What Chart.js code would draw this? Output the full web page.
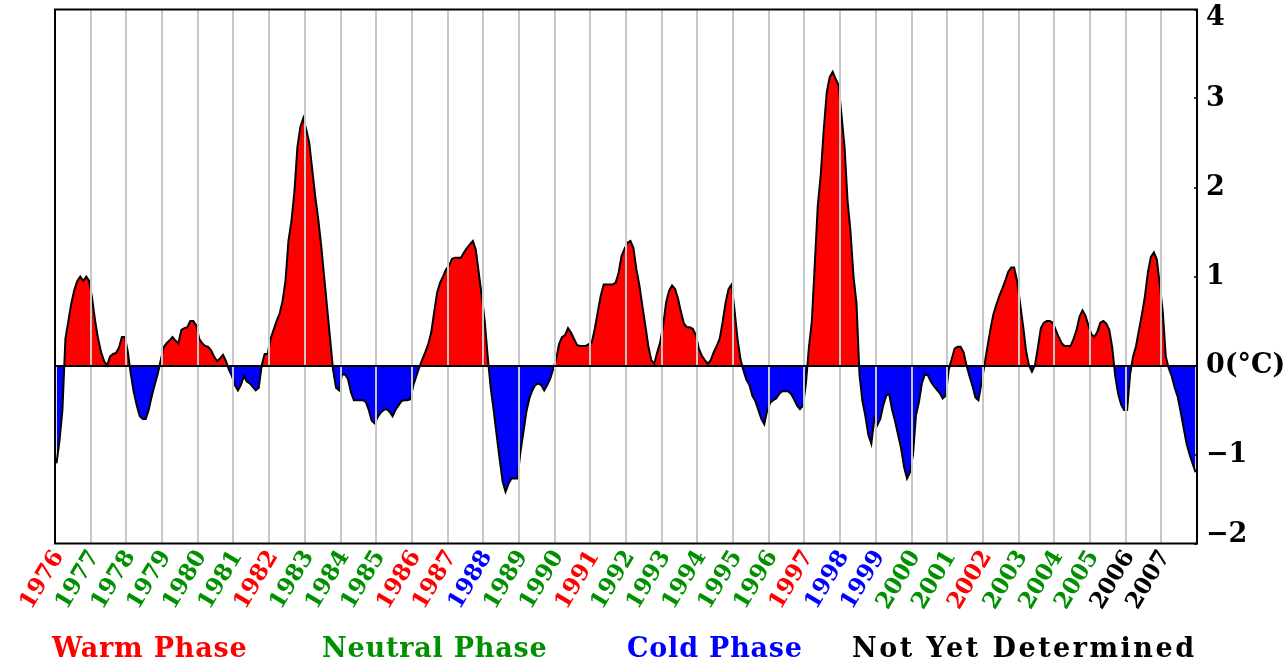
<!DOCTYPE html>
<html>
<head>
<meta charset="utf-8">
<script src="https://cdn.jsdelivr.net/npm/chart.js@4.4.1/dist/chart.umd.min.js"></script>
<style>
  html, body { margin: 0; padding: 0; background: #ffffff; }
  #wrap { position: relative; width: 1287px; height: 663px; overflow: hidden; }
  #c { position: absolute; left: 0; top: 0; }
  #legend { position: absolute; left: 0; top: 632px; width: 1287px; height: 31px;
            font-family: "DejaVu Serif", serif; font-weight: bold; font-size: 27px; line-height: 31px;
            letter-spacing: 0.8px; }
  #legend span { position: absolute; top: 0; white-space: nowrap; }
  #legend span:nth-child(1) { left: 52px; }
  #legend span:nth-child(2) { left: 322px; }
  #legend span:nth-child(3) { left: 627px; }
  #legend span:nth-child(4) { left: 852px; letter-spacing: 2.5px; }
</style>
</head>
<body>
<div id="wrap">
  <canvas id="c" width="1287" height="663"></canvas>
  <div id="legend"></div>
</div>
<script>
// ---- data ----
const years = [1976,1977,1978,1979,1980,1981,1982,1983,1984,1985,1986,1987,1988,1989,1990,1991,
               1992,1993,1994,1995,1996,1997,1998,1999,2000,2001,2002,2003,2004,2005,2006,2007];
// phase of each year: 0 warm, 1 neutral, 2 cold, 3 not yet determined
const yearPhase = [0,1,1,1,1,1,0,1,1,1,0,0,2,1,1,0,1,1,1,1,1,0,2,2,1,1,0,1,1,1,3,3];
const phaseNames = ['Warm Phase', 'Neutral Phase', 'Cold Phase', 'Not Yet Determined'];
const phaseColors = ['#ff0000', '#009000', '#0000ff', '#000000'];
const yTickValues = [-2, -1, 0, 1, 2, 3, 4];
const yTickLabels = ['\u22122', '\u22121', '0(\u00B0C)', '1', '2', '3', '4'];
// monthly anomaly (°C), Jan..Dec of each year
const anomaly = [
  -1.1, -0.85, -0.5, 0.3, 0.5, 0.7, 0.85, 0.95, 1.0, 0.95, 1.0, 0.95,          // 1976
  0.75, 0.5, 0.3, 0.15, 0.05, 0.0, 0.1, 0.13, 0.14, 0.2, 0.32, 0.32,             // 1977
  0.15, -0.1, -0.3, -0.45, -0.57, -0.6, -0.6, -0.5, -0.35, -0.22, -0.1, 0.05,    // 1978
  0.2, 0.25, 0.28, 0.32, 0.28, 0.25, 0.4, 0.42, 0.43, 0.5, 0.5, 0.45,            // 1979
  0.3, 0.25, 0.22, 0.21, 0.17, 0.1, 0.05, 0.08, 0.12, 0.05, -0.05, -0.12,        // 1980
  -0.22, -0.28, -0.22, -0.12, -0.18, -0.2, -0.24, -0.28, -0.25, 0.0, 0.13, 0.13, // 1981
  0.3, 0.4, 0.5, 0.58, 0.72, 0.95, 1.4, 1.62, 1.95, 2.45, 2.68, 2.78,            // 1982
  2.65, 2.5, 2.2, 1.9, 1.65, 1.35, 1.0, 0.65, 0.3, -0.05, -0.25, -0.28,          // 1983
  -0.1, -0.1, -0.15, -0.3, -0.39, -0.39, -0.39, -0.39, -0.41, -0.5, -0.62, -0.65,// 1984
  -0.58, -0.53, -0.5, -0.49, -0.52, -0.57, -0.5, -0.45, -0.4, -0.39, -0.39, -0.38,// 1985
  -0.22, -0.12, -0.02, 0.07, 0.15, 0.24, 0.37, 0.6, 0.82, 0.93, 1.0, 1.08,       // 1986
  1.12, 1.2, 1.21, 1.21, 1.21, 1.27, 1.32, 1.36, 1.4, 1.3, 1.04, 0.78,           // 1987
  0.5, 0.1, -0.25, -0.5, -0.78, -1.05, -1.3, -1.42, -1.33, -1.27, -1.27, -1.27,  // 1988
  -0.97, -0.75, -0.52, -0.37, -0.28, -0.22, -0.2, -0.22, -0.28, -0.22, -0.15, -0.04, // 1989
  0.07, 0.24, 0.32, 0.34, 0.42, 0.37, 0.3, 0.23, 0.22, 0.22, 0.22, 0.24,         // 1990
  0.26, 0.41, 0.6, 0.78, 0.91, 0.91, 0.91, 0.91, 0.93, 1.04, 1.23, 1.31,         // 1991
  1.38, 1.4, 1.32, 1.08, 0.9, 0.67, 0.45, 0.22, 0.06, 0.02, 0.15, 0.26,          // 1992
  0.45, 0.71, 0.84, 0.9, 0.86, 0.75, 0.6, 0.47, 0.43, 0.43, 0.41, 0.34,          // 1993
  0.19, 0.11, 0.06, 0.02, 0.06, 0.15, 0.22, 0.3, 0.49, 0.71, 0.86, 0.91,         // 1994
  0.62, 0.3, 0.07, -0.06, -0.16, -0.22, -0.34, -0.4, -0.5, -0.6, -0.66, -0.5,    // 1995
  -0.42, -0.39, -0.37, -0.32, -0.29, -0.29, -0.29, -0.32, -0.38, -0.45, -0.49, -0.45, // 1996
  -0.2, 0.2, 0.5, 1.15, 1.8, 2.15, 2.65, 3.07, 3.24, 3.3, 3.22, 3.15,            // 1997
  2.8, 2.45, 1.85, 1.5, 1.0, 0.7, -0.1, -0.4, -0.57, -0.78, -0.88, -0.6,         // 1998
  -0.67, -0.6, -0.45, -0.34, -0.32, -0.5, -0.63, -0.78, -0.93, -1.14, -1.27, -1.2, // 1999
  -1.0, -0.56, -0.41, -0.2, -0.1, -0.11, -0.18, -0.23, -0.27, -0.31, -0.37, -0.34, // 2000
  -0.05, 0.07, 0.19, 0.21, 0.21, 0.15, 0.0, -0.12, -0.23, -0.36, -0.39, -0.2,    // 2001
  0.0, 0.2, 0.4, 0.57, 0.68, 0.78, 0.86, 0.95, 1.05, 1.1, 1.1, 0.95,             // 2002
  0.7, 0.45, 0.17, 0.0, -0.07, 0.0, 0.2, 0.42, 0.48, 0.5, 0.5, 0.48,             // 2003
  0.4, 0.32, 0.25, 0.22, 0.22, 0.22, 0.3, 0.4, 0.55, 0.62, 0.56, 0.45,           // 2004
  0.35, 0.32, 0.38, 0.48, 0.5, 0.47, 0.4, 0.2, -0.12, -0.32, -0.44, -0.5,        // 2005
  -0.5, -0.1, 0.1, 0.22, 0.4, 0.58, 0.78, 1.05, 1.22, 1.27, 1.19, 0.9,           // 2006
  0.6, 0.1, -0.03, -0.12, -0.25, -0.35, -0.52, -0.7, -0.88, -1.0, -1.1, -1.2     // 2007
];

// ---- build ----
const firstYear = years[0];
const endYear = years[years.length - 1] + 1;
const points = anomaly.map((v, i) => ({ x: firstYear + (i + 0.5) / 12, y: v }));
const xTickValues = years.concat([endYear]);

const legendEl = document.getElementById('legend');
phaseNames.forEach((name, i) => {
  const s = document.createElement('span');
  s.textContent = name;
  s.style.color = phaseColors[i];
  legendEl.appendChild(s);
});

const framePlugin = {
  id: 'frame',
  afterDraw(chart) {
    const a = chart.chartArea, ctx = chart.ctx;
    ctx.save();
    ctx.strokeStyle = '#000';
    ctx.lineWidth = 2;
    ctx.strokeRect(a.left, a.top, a.right - a.left, a.bottom - a.top);
    ctx.restore();
  }
};

const tickFont = { family: '"DejaVu Serif", serif', weight: 'bold' };

new Chart(document.getElementById('c'), {
  type: 'line',
  data: {
    datasets: [{
      data: points,
      borderColor: '#000000',
      borderWidth: 2,
      pointRadius: 0,
      tension: 0,
      fill: { target: { value: 0 }, above: '#ff0000', below: '#0000ff' }
    }]
  },
  options: {
    responsive: false,
    animation: false,
    devicePixelRatio: 1,
    layout: { padding: { left: 55, top: 9.5, right: 0, bottom: 0 } },
    plugins: { legend: { display: false }, tooltip: { enabled: false } },
    scales: {
      x: {
        type: 'linear',
        min: firstYear,
        max: endYear,
        afterBuildTicks: s => { s.ticks = xTickValues.map(v => ({ value: v })); },
        afterFit: s => { s.height = 119.5; s.paddingLeft = 0; s.paddingRight = 0; },
        grid: { color: '#c8c8c8', lineWidth: 2, drawTicks: false, z: 1 },
        border: { display: false },
        ticks: {
          autoSkip: false,
          minRotation: 59,
          maxRotation: 59,
          padding: 2,
          labelOffset: 4,
          font: Object.assign({ size: 23 }, tickFont),
          color: c => phaseColors[yearPhase[c.index]] || '#000',
          callback: (v) => (years.indexOf(v) >= 0 ? String(v) : '')
        }
      },
      y: {
        position: 'right',
        min: yTickValues[0],
        max: yTickValues[yTickValues.length - 1],
        afterBuildTicks: s => { s.ticks = yTickValues.map(v => ({ value: v })); },
        afterFit: s => { s.width = 90; s.paddingTop = 0; s.paddingBottom = 0; },
        grid: {
          color: c => (c.tick && c.tick.value === 0 ? '#000000' : 'rgba(0,0,0,0)'),
          lineWidth: 2, z: 1,
          drawTicks: true, tickLength: -3, tickColor: '#000000', tickWidth: 1.5
        },
        border: { display: false },
        ticks: {
          padding: 12,
          color: '#000',
          font: Object.assign({ size: 27, lineHeight: 0.62 }, tickFont),
          callback: (v, i, ticks) => {
            const lab = yTickLabels[yTickValues.indexOf(v)];
            if (i === 0) return [lab, ''];                 // keep bottom label inside
            if (i === ticks.length - 1) return ['', lab];  // keep top label inside
            return lab;
          }
        }
      }
    }
  },
  plugins: [framePlugin]
});
</script>
</body>
</html>
